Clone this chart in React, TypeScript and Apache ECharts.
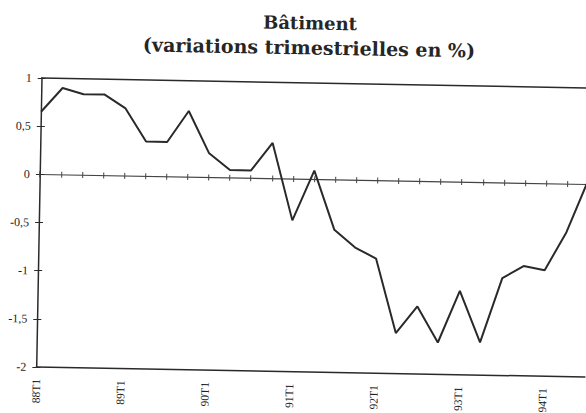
import React, { useEffect, useRef } from "react";
import * as echarts from "echarts";

const categories = [
  "88T1", "88T2", "88T3", "88T4",
  "89T1", "89T2", "89T3", "89T4",
  "90T1", "90T2", "90T3", "90T4",
  "91T1", "91T2", "91T3", "91T4",
  "92T1", "92T2", "92T3", "92T4",
  "93T1", "93T2", "93T3", "93T4",
  "94T1", "94T2", "94T3",
];

const variations = [
  0.65, 0.9, 0.84, 0.84,
  0.7, 0.36, 0.36, 0.685,
  0.25, 0.08, 0.08, 0.37,
  -0.43, 0.09, -0.52, -0.7,
  -0.81, -1.58, -1.3, -1.67,
  -1.13, -1.66, -0.99, -0.86,
  -0.9, -0.5, 0.05,
];

const yMin = -2;
const yMax = 1;
const yStep = 0.5;

const titleText = "Bâtiment";
const subtitleText = "(variations trimestrielles en %)";

const ink = "#2a2a2a";
const serif = "'Liberation Serif', 'Times New Roman', serif";

export default function App() {
  const ref = useRef<HTMLDivElement>(null);

  useEffect(() => {
    if (!ref.current) return;
    const chart = echarts.init(ref.current, null, { renderer: "svg" });
    const lineStyle = { color: ink, width: 1.5 };
    chart.setOption({
      animation: false,
      backgroundColor: "transparent",
      grid: { left: 41.7, top: 78, width: 548.6, height: 289 },
      graphic: [
        {
          type: "text",
          x: 309,
          y: 18,
          style: {
            text: titleText,
            align: "center",
            verticalAlign: "middle",
            font: "bold 18px 'DejaVu Serif'",
            fill: "#262626",
          },
        },
        {
          type: "text",
          x: 308.4,
          y: 42.5,
          style: {
            text: subtitleText,
            align: "center",
            verticalAlign: "middle",
            font: "bold 19px 'DejaVu Serif'",
            fill: "#262626",
          },
        },
      ],
      xAxis: [
        {
          type: "category",
          data: categories,
          boundaryGap: false,
          position: "bottom",
          axisLine: { onZero: false, lineStyle },
          axisTick: { show: false },
          axisLabel: {
            interval: 3,
            rotate: 90,
            margin: 12,
            fontFamily: serif,
            fontSize: 11.5,
            color: "#222",
          },
          splitLine: { show: false },
        },
        {
          type: "category",
          data: categories,
          boundaryGap: false,
          position: "bottom",
          axisLine: { onZero: true, lineStyle: { color: "#444", width: 1.2 } },
          axisTick: { show: true, interval: 0, inside: false, length: 3, lineStyle: { color: "#444", width: 1 } },
          axisLabel: { show: false },
          splitLine: { show: false },
        },
        {
          type: "category",
          data: categories,
          boundaryGap: false,
          position: "bottom",
          axisLine: { show: false, onZero: true },
          axisTick: { show: true, interval: 0, inside: true, length: 3, lineStyle: { color: "#444", width: 1 } },
          axisLabel: { show: false },
          splitLine: { show: false },
        },
        {
          type: "category",
          data: categories,
          boundaryGap: false,
          position: "top",
          axisLine: { onZero: false, lineStyle },
          axisTick: { show: false },
          axisLabel: { show: false },
          splitLine: { show: false },
        },
      ],
      yAxis: [
        {
          type: "value",
          min: yMin,
          max: yMax,
          interval: yStep,
          position: "left",
          axisLine: { show: true, onZero: false, lineStyle },
          axisTick: { show: true, inside: false, length: 4, lineStyle: { color: ink, width: 1 } },
          axisLabel: {
            margin: 10,
            fontFamily: serif,
            fontSize: 12,
            color: "#222",
            formatter: (v: number) => String(v).replace(".", ","),
          },
          splitLine: { show: false },
        },
        {
          type: "value",
          min: yMin,
          max: yMax,
          interval: yStep,
          position: "left",
          axisLine: { show: false, onZero: false },
          axisTick: { show: true, inside: true, length: 4, lineStyle: { color: ink, width: 1 } },
          axisLabel: { show: false },
          splitLine: { show: false },
        },
      ],
      series: [
        {
          type: "line",
          data: variations,
          xAxisIndex: 0,
          yAxisIndex: 0,
          symbol: "none",
          lineStyle: { color: ink, width: 2 },
        },
      ],
    });
    return () => chart.dispose();
  }, []);

  return (
    <div
      style={{
        position: "fixed",
        left: 0,
        top: 0,
        width: 586,
        height: 413,
        overflow: "hidden",
        background: "#fff",
      }}
    >
      <div
        ref={ref}
        style={{
          width: 640,
          height: 440,
          transform: "rotate(1.05deg)",
          transformOrigin: "41.7px 78px",
        }}
      />
    </div>
  );
}
